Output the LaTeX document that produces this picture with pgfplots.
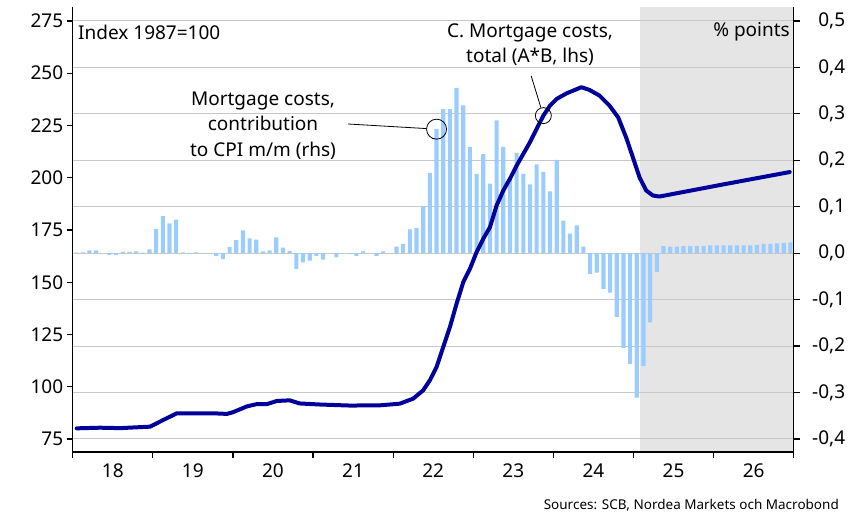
\documentclass[border=0pt]{standalone}
\usepackage{fontspec}
\setmainfont{Noto Sans}
\usepackage{pgfplots}
\pgfplotsset{compat=1.18}
\definecolor{barblue}{RGB}{155,204,255}
\definecolor{linenavy}{RGB}{0,0,155}
\definecolor{gridgray}{RGB}{200,200,200}
\definecolor{fcgray}{RGB}{229,229,229}

\pgfplotstableread{
x y
0.5 0.001
1.5 0.002
2.5 0.006
3.5 0.006
4.5 0.000
5.5 -0.004
6.5 -0.004
7.5 0.003
8.5 0.003
9.5 0.004
10.5 0.001
11.5 0.008
12.5 0.052
13.5 0.080
14.5 0.064
15.5 0.072
16.5 0.002
17.5 -0.002
18.5 0.002
19.5 0.000
20.5 0.000
21.5 -0.006
22.5 -0.013
23.5 0.013
24.5 0.028
25.5 0.049
26.5 0.032
27.5 0.029
28.5 0.004
29.5 0.006
30.5 0.034
31.5 0.012
32.5 0.005
33.5 -0.034
34.5 -0.020
35.5 -0.016
36.5 -0.006
37.5 -0.014
38.5 0.000
39.5 -0.009
40.5 0.000
41.5 -0.002
42.5 -0.006
43.5 0.004
44.5 0.000
45.5 -0.006
46.5 0.004
47.5 0.000
48.5 0.014
49.5 0.020
50.5 0.051
51.5 0.054
52.5 0.100
53.5 0.173
54.5 0.267
55.5 0.310
56.5 0.310
57.5 0.356
58.5 0.318
59.5 0.229
60.5 0.171
61.5 0.213
62.5 0.150
63.5 0.286
64.5 0.229
65.5 0.160
66.5 0.216
67.5 0.171
68.5 0.148
69.5 0.191
70.5 0.175
71.5 0.133
72.5 0.201
73.5 0.070
74.5 0.042
75.5 0.060
76.5 0.014
77.5 -0.045
78.5 -0.042
79.5 -0.077
80.5 -0.085
81.5 -0.137
82.5 -0.204
83.5 -0.239
84.5 -0.311
85.5 -0.243
86.5 -0.149
87.5 -0.040
88.5 0.015
89.5 0.014
90.5 0.014
91.5 0.015
92.5 0.015
93.5 0.016
94.5 0.016
95.5 0.017
96.5 0.017
97.5 0.017
98.5 0.017
99.5 0.017
100.5 0.017
101.5 0.017
102.5 0.018
103.5 0.020
104.5 0.020
105.5 0.021
106.5 0.022
107.5 0.023
}\barsdata

\pgfplotstableread{
x y
0.6 80.1
4.1 80.4
7.1 80.2
11.6 80.9
13.5 84.0
15.6 87.3
19.1 87.3
21.0 87.3
23.1 87.0
24.0 87.8
26.1 90.6
27.6 91.7
29.1 91.7
30.6 93.2
32.5 93.5
34.0 92.0
37.0 91.5
41.5 91.0
46.0 91.1
49.0 91.9
51.0 94.3
52.5 98.3
53.5 103.1
54.5 109.4
55.5 119.0
56.5 128.5
57.5 139.7
58.5 150.0
59.5 156.4
60.5 164.4
61.5 170.8
62.5 176.3
63.5 186.7
64.5 193.9
65.5 199.5
66.5 205.8
67.5 211.4
68.5 217.0
69.5 223.4
70.5 229.7
71.5 234.5
72.5 237.7
74.0 240.4
75.0 241.7
76.2 243.3
77.4 242.0
78.9 239.3
80.4 234.5
81.7 228.9
82.9 219.3
83.9 209.8
84.9 200.2
85.9 193.9
86.9 191.5
87.9 191.0
97.3 196.7
107.4 202.7
}\linedata

\begin{document}
\begin{tikzpicture}
\pgfplotsset{
  common/.style={
    at={(0pt,0pt)}, anchor=south west, scale only axis,
    width=721pt, height=445pt,
    xmin=0, xmax=108,
    axis line style={line width=1.2pt, black, -},
    tick align=outside, major tick length=6pt,
    tick style={line width=1.2pt, black},
    ticklabel style={font=\fontsize{19}{22}\selectfont},
    /pgf/number format/assume math mode=true,
  }
}
\begin{axis}[common,
  set layers=standard,
  ymin=-0.428, ymax=0.53,
  axis x line*=bottom, axis y line*=right,
  xtick={0,12,...,108},
  x tick label as interval,
  xticklabels={18,19,20,21,22,23,24,25,26},
  xticklabel style={yshift=-2pt},
  ytick={-0.4,-0.3,-0.2,-0.1,0,0.1,0.2,0.3,0.4,0.5},
  /pgf/number format/fixed,
  /pgf/number format/fixed zerofill,
  /pgf/number format/precision=1,
  /pgf/number format/use comma,
  yticklabel style={anchor=east, xshift=49pt},
  ymajorgrids, grid style={gridgray, line width=1pt},
  clip=false,
]
\addplot[on layer=axis background, fill=fcgray, draw=none] coordinates {(85,-0.428) (108,-0.428) (108,0.53) (85,0.53) (85,-0.428)};
\addplot[ybar, bar width=0.62, fill=barblue, draw=none] table[x=x,y=y] {\barsdata};
\node[circle, draw=black, line width=0.8pt, minimum size=20pt, inner sep=0pt] (c1) at (axis cs:54.5,0.267) {};
\end{axis}
\begin{axis}[common,
  ymin=68.78, ymax=281.67,
  axis y line*=left, hide x axis,
  ytick={75,100,...,275},
]
\addplot[linenavy, line width=4pt, line join=round, line cap=round] table[x=x,y=y] {\linedata};
\node[circle, draw=black, line width=0.8pt, minimum size=16pt, inner sep=0pt] (c2) at (axis cs:70.5,229.7) {};
\end{axis}
\draw[line width=0.8pt] (275.3pt,328pt) -- (c1);
\draw[line width=0.8pt] (458.5pt,376pt) -- (c2);
\begin{scope}[every node/.style={font=\fontsize{19}{25.5}\selectfont, inner sep=0pt}]
\node[anchor=west] at (5.3pt,420pt) {Index 1987=100};
\node[anchor=east] at (717.3pt,420pt) {\% points};
\node[align=center] at (190.3pt,326.5pt) {Mortgage costs,\\contribution\\to CPI m/m (rhs)};
\node[align=center] at (457.3pt,407.5pt) {C. Mortgage costs,\\total (A*B, lhs)};
\end{scope}
\node[anchor=east, inner sep=0pt, font=\fontsize{13.5}{16}\selectfont] at (766.3pt,-53pt) {Sources: SCB, Nordea Markets och Macrobond};
\useasboundingbox (-72.7pt,-61pt) rectangle (779.3pt,452pt);
\end{tikzpicture}
\end{document}
